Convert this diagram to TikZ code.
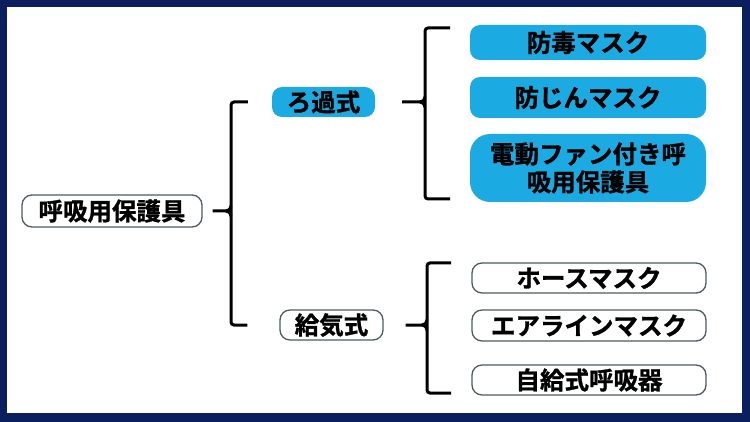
\documentclass[tikz,border=0pt]{standalone}
\usepackage{fontspec}
\newfontfamily\jp{Noto Sans CJK JP}[BoldFont={Noto Sans CJK JP Bold}, BoldFeatures={FakeBold=1.2}]
\usetikzlibrary{calc}
\definecolor{navy}{HTML}{0B1F5E}
\definecolor{skyblue}{HTML}{1CAAE2}
\definecolor{boxgray}{HTML}{4F5B60}
\tikzset{
  txt/.style={font=\jp\bfseries\fontsize{24.5}{28}\selectfont, text=black, inner sep=0pt, align=center},
  bluebox/.style={txt, fill=skyblue, rounded corners=10pt},
  whitebox/.style={txt, fill=white, draw=boxgray, line width=1.3pt, rounded corners=10pt},
  bracket/.style={line width=3pt, draw=black, rounded corners=3pt},
  stem/.style={line width=3pt, draw=black}
}
\begin{document}
\begin{tikzpicture}[x=1pt,y=-1pt]
\useasboundingbox (0,0) rectangle (750,422);
\fill[navy] (0,0) rectangle (750,422);
\fill[white] (7,7) rectangle (742,413);

\node[whitebox, minimum width=180pt, minimum height=32pt] (root) at (112,211) {呼吸用保護具};
\node[bluebox, minimum width=103pt, minimum height=30pt] (ro) at (323.5,102) {ろ過式};
\node[whitebox, minimum width=103pt, minimum height=30pt] (kyu) at (331.5,325) {給気式};

\node[bluebox, minimum width=236pt, minimum height=35pt] (b1) at (588,42.5) {防毒マスク};
\node[bluebox, minimum width=236pt, minimum height=41pt] (b2) at (588,97.5) {防じんマスク};
\node[bluebox, minimum width=236pt, minimum height=68pt, rounded corners=20pt] (b3) at (588,168) {電動ファン付き呼\\吸用保護具};

\node[whitebox, minimum width=234pt, minimum height=30pt] (w1) at (589,278) {ホースマスク};
\node[whitebox, minimum width=234pt, minimum height=31pt] (w2) at (589,325.5) {エアラインマスク};
\node[whitebox, minimum width=234pt, minimum height=30pt] (w3) at (589,380) {自給式呼吸器};

% bracket from root
\coordinate (v1) at (231,0);
\draw[bracket] ($(ro.west |- ro.center)+(-24,0)$) -- (v1 |- ro.center) -- (v1 |- kyu.center) -- ($(kyu.west |- kyu.center)+(-32,0)$);
\draw[stem] ($(root.east)+(10,0)$) -- ($(v1 |- root.east)+(-5,0)$) to[out=0,in=90] ($(v1 |- root.east)+(0,5)$);
\draw[stem] ($(v1 |- root.east)+(-5,0)$) to[out=0,in=-90] ($(v1 |- root.east)+(0,-5)$);

% bracket from ro
\coordinate (v2) at (425,0);
\draw[bracket] (450,28) -- (v2 |- 0,28) -- (v2 |- 0,199) -- (450,199);
\draw[stem] ($(ro.east)+(27,0)$) -- ($(v2 |- ro.east)+(-5,0)$) to[out=0,in=90] ($(v2 |- ro.east)+(0,5)$);
\draw[stem] ($(v2 |- ro.east)+(-5,0)$) to[out=0,in=-90] ($(v2 |- ro.east)+(0,-5)$);

% bracket from kyu
\coordinate (v3) at (427,0);
\draw[bracket] (451,263) -- (v3 |- 0,263) -- (v3 |- 0,393) -- (451,393);
\draw[stem] ($(kyu.east)+(22,0)$) -- ($(v3 |- kyu.east)+(-5,0)$) to[out=0,in=90] ($(v3 |- kyu.east)+(0,5)$);
\draw[stem] ($(v3 |- kyu.east)+(-5,0)$) to[out=0,in=-90] ($(v3 |- kyu.east)+(0,-5)$);
\end{tikzpicture}
\end{document}
